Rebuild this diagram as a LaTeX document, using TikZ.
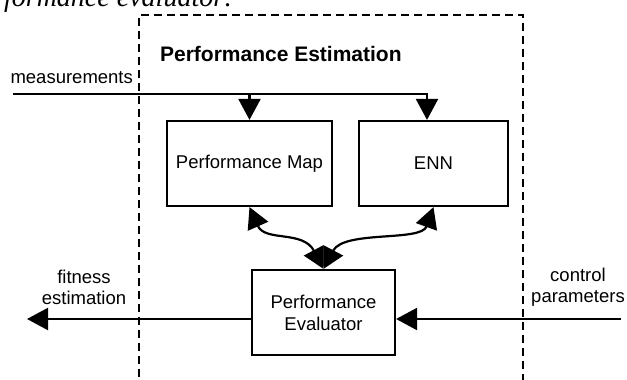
\documentclass[tikz,border=0pt]{standalone}
\usepackage{fontspec}
\setmainfont{Liberation Sans}
\newfontfamily\serifcaption{Liberation Serif}
\usepackage{tikz}
\usetikzlibrary{arrows.meta, positioning, calc}

\begin{document}
\begin{tikzpicture}[x=1pt, y=-1pt, line width=2.2pt,
    >={Triangle[length=21pt, width=22pt]},
    block/.style={draw, line width=2.2pt, inner sep=0pt, align=center, font=\fontsize{18.5}{22}\selectfont},
    tagtext/.style={inner sep=0pt, align=center, font=\fontsize{18.5}{21}\selectfont},
    estbox/.style={line width=2.2pt, dash pattern=on 8pt off 5pt}]
    \useasboundingbox (0,0) rectangle (627,380);
    \clip (0,0) rectangle (627,380);

    % tail of the caption line above the figure
    \node[anchor=base west, inner sep=0pt, font=\serifcaption\itshape\fontsize{28}{30}\selectfont] (capTail) at (3,6) {formance evaluator:};

    % estimation frame
    \draw[estbox] (139,390) -- (139,15) -- (523,15) -- (523,390);
    \node[anchor=base west, inner sep=0pt, font=\fontsize{21}{24}\selectfont\bfseries] (estTitle) at (159,61) {Performance Estimation};

    \node[block, minimum width=165pt, minimum height=85pt] (pMap) at (249.5,163.5) {Performance Map};
    \node[block, minimum width=149pt, minimum height=85pt] (enn) at (433.5,163.5) {ENN};
    \node[block, minimum width=143pt, minimum height=85pt] (pe) at (323.5,312.5) {Performance\\Evaluator};

    % measurements in
    \coordinate (mIn) at (13,94);
    \coordinate (mTap) at (427,94);
    \node[tagtext, anchor=base east] (measLbl) at (134,83) {measurements};
    \draw[->] (mIn) -| (pMap.north);
    \draw[->] (mIn) -| (mTap |- enn.north);

    \draw[<->] (pMap.south) .. controls (265,242) and (303,230) .. (pe.north);
    \draw[<->] (enn.south) .. controls (421,242) and (344,230) .. (pe.north);

    % evaluator in and out
    \coordinate (fitOut) at (27,319);
    \coordinate (ctlIn) at (621,319);
    \draw[->] (pe.west |- fitOut) -- (fitOut);
    \draw[->] (ctlIn) -- (ctlIn -| pe.east);
    \node[tagtext] (fitLbl) at (84,287) {fitness\\estimation};
    \node[tagtext] (ctlLbl) at (578,287) {control\\parameters};
\end{tikzpicture}
\end{document}
